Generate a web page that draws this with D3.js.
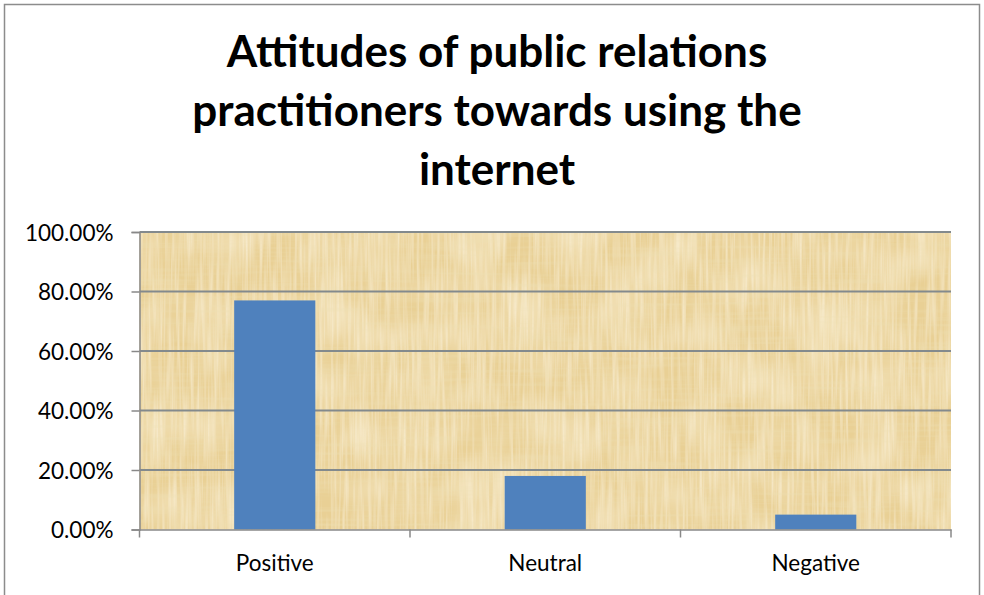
<!DOCTYPE html>
<html><head><meta charset="utf-8">
<script src="https://cdn.jsdelivr.net/npm/d3@7/dist/d3.min.js"></script>
<style>html,body{margin:0;padding:0;background:#fff;}svg{display:block;}</style>
</head><body>
<script>
const categories = ["Positive", "Neutral", "Negative"];
const values = [0.77, 0.18, 0.05];
const yTicks = [0, 0.2, 0.4, 0.6, 0.8, 1.0];
const titleLines = ["Attitudes of public relations", "practitioners towards using the", "internet"];

const W = 984, H = 595;
const svg = d3.select("body").append("svg").attr("width", W).attr("height", H);
const font = "Lato, 'Open Sans', sans-serif";

// outer border
svg.append("rect").attr("x", 4.5).attr("y", 4.5).attr("width", W - 9).attr("height", H + 10)
  .attr("fill", "#fff").attr("stroke", "#8c8c8c").attr("stroke-width", 1.5);

const m = {left: 139.5, right: 951, top: 232, bottom: 529.5};
const x = d3.scaleBand().domain(categories).range([m.left, m.right]).paddingInner(0.7).paddingOuter(0.35);
const y = d3.scaleLinear().domain([0, 1]).range([m.bottom, m.top]);

// papyrus-like texture
const defs = svg.append("defs");
function texFilter(id, freq, seed, rgb, alphaScale, alphaOff) {
  const f = defs.append("filter").attr("id", id).attr("x", 0).attr("y", 0).attr("width", 1).attr("height", 1);
  f.append("feTurbulence").attr("type", "fractalNoise").attr("baseFrequency", freq).attr("numOctaves", 2).attr("seed", seed).attr("result", "n");
  f.append("feColorMatrix").attr("in", "n").attr("type", "matrix")
    .attr("values", `0 0 0 0 ${rgb[0]}  0 0 0 0 ${rgb[1]}  0 0 0 0 ${rgb[2]}  ${alphaScale} 0 0 0 ${alphaOff}`);
}
texFilter("texV", "0.35 0.015", 5, [0.97, 0.90, 0.74], 1.2, -0.45);
texFilter("texH", "0.01 0.3", 9, [0.85, 0.74, 0.45], 0.9, -0.4);
texFilter("texB", "0.02 0.02", 2, [0.96, 0.88, 0.68], 1.0, -0.35);

const pw = m.right - m.left, ph = m.bottom - m.top;
svg.append("rect").attr("x", m.left).attr("y", m.top).attr("width", pw).attr("height", ph).attr("fill", "#e9d095");
["texB", "texV", "texH"].forEach(id =>
  svg.append("rect").attr("x", m.left).attr("y", m.top).attr("width", pw).attr("height", ph)
    .attr("filter", `url(#${id})`).attr("fill", "#fff"));

// gridlines
svg.append("g").selectAll("line").data(yTicks.filter(d => d > 0)).join("line")
  .attr("x1", m.left).attr("x2", m.right).attr("y1", d => y(d)).attr("y2", d => y(d))
  .attr("stroke", "#838a8d").attr("stroke-width", 1.8);

// bars
svg.append("g").selectAll("rect").data(categories).join("rect")
  .attr("x", d => x(d)).attr("width", x.bandwidth())
  .attr("y", (d, i) => y(values[i])).attr("height", (d, i) => y(0) - y(values[i]))
  .attr("fill", "#4f81bd");

// y axis
const yAxis = svg.append("g").attr("transform", `translate(${m.left},0)`)
  .call(d3.axisLeft(y).tickValues(yTicks).tickFormat(d3.format(".2%")).tickSize(8).tickPadding(18));
yAxis.select(".domain").attr("stroke", "#888").attr("stroke-width", 1.5);
yAxis.selectAll(".tick line").attr("stroke", "#888").attr("stroke-width", 1.5);
yAxis.selectAll("text").attr("font-family", font).attr("font-size", 22.5).attr("fill", "#000").attr("dy", "0.36em");

// x axis
const xAxis = svg.append("g").attr("transform", `translate(0,${m.bottom})`)
  .call(d3.axisBottom(x).tickSize(0).tickPadding(26));
xAxis.select(".domain").attr("stroke", "#888").attr("stroke-width", 1.5);
xAxis.selectAll("text").attr("font-family", font).attr("font-size", 22.5).attr("fill", "#000");
const step = x.step();
const bounds = [m.left, ...categories.map(c => x(c) + x.bandwidth() / 2 + step / 2)];
xAxis.selectAll(".bt").data(bounds).join("line").attr("class", "bt")
  .attr("x1", d => d).attr("x2", d => d).attr("y1", 0).attr("y2", 8)
  .attr("stroke", "#888").attr("stroke-width", 1.5);

// title
svg.append("g").selectAll("text").data(titleLines).join("text")
  .attr("x", 497).attr("y", (d, i) => 67 + i * 59)
  .attr("text-anchor", "middle").attr("font-family", font).attr("font-weight", "bold")
  .attr("font-size", 44).attr("fill", "#000").text(d => d);
</script>
</body></html>
